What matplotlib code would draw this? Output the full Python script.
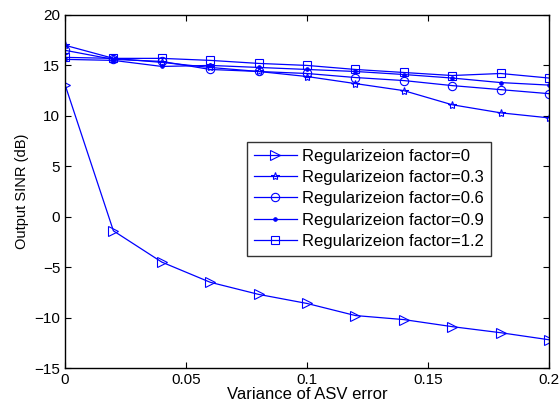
import numpy as np
import matplotlib
matplotlib.use("Agg")
import matplotlib.pyplot as plt

# data
asv_variance = [0, 0.02, 0.04, 0.06, 0.08, 0.1, 0.12, 0.14, 0.16, 0.18, 0.2]
sinr_rf_0 = [13.1, -1.4, -4.5, -6.5, -7.7, -8.6, -9.8, -10.2, -10.9, -11.5, -12.2]
sinr_rf_03 = [17.0, 15.7, 15.3, 14.8, 14.4, 13.9, 13.2, 12.5, 11.1, 10.3, 9.8]
sinr_rf_06 = [16.5, 15.6, 15.4, 14.6, 14.4, 14.2, 13.8, 13.5, 13.0, 12.6, 12.2]
sinr_rf_09 = [15.6, 15.5, 14.9, 15.0, 14.8, 14.6, 14.4, 14.1, 13.75, 13.3, 13.05]
sinr_rf_12 = [15.8, 15.7, 15.7, 15.5, 15.2, 15.0, 14.6, 14.3, 14.0, 14.2, 13.75]

labels = ['Regularizeion factor=0', 'Regularizeion factor=0.3',
          'Regularizeion factor=0.6', 'Regularizeion factor=0.9',
          'Regularizeion factor=1.2']

plt.rcParams['font.family'] = ['Liberation Sans', 'DejaVu Sans']

fig = plt.figure(figsize=(5.59, 4.09), dpi=100)
ax = fig.add_axes([65 / 559, 41 / 409, 484 / 559, 353 / 409])

blue = (0, 0, 1)
series = [sinr_rf_0, sinr_rf_03, sinr_rf_06, sinr_rf_09, sinr_rf_12]
markers = ['>', '*', 'o', '.', 's']
sizes = [7, 6, 6, 5, 6]
for vals, m, ms, lab in zip(series, markers, sizes, labels):
    face = blue if m == '.' else 'none'
    ax.plot(asv_variance, vals, color=blue, lw=0.9, marker=m, markersize=ms,
            markerfacecolor=face, markeredgecolor=blue, markeredgewidth=0.8,
            label=lab)

ax.set_xlim(0, 0.2)
ax.set_ylim(-15, 20)
ax.set_xticks([0, 0.05, 0.1, 0.15, 0.2])
ax.set_xticklabels(['0', '0.05', '0.1', '0.15', '0.2'])
ax.set_yticks(range(-15, 21, 5))
ax.tick_params(direction='in', top=True, right=True, length=4, labelsize=11)
for sp in ax.spines.values():
    sp.set_linewidth(1.0)

ax.set_xlabel('Variance of ASV error', fontsize=12, labelpad=0)
ax.set_ylabel('Output SINR (dB)', fontsize=10.5, labelpad=4)

leg = ax.legend(loc='upper left', bbox_to_anchor=((247 - 65) / 484, (368 - 142) / 353),
                fontsize=12, frameon=True, fancybox=False, handlelength=2.6,
                borderpad=0.4, labelspacing=0.38, handletextpad=0.3,
                borderaxespad=0)
leg.get_frame().set_edgecolor('black')
leg.get_frame().set_linewidth(1.0)

fig.savefig('out.png', dpi=100)
